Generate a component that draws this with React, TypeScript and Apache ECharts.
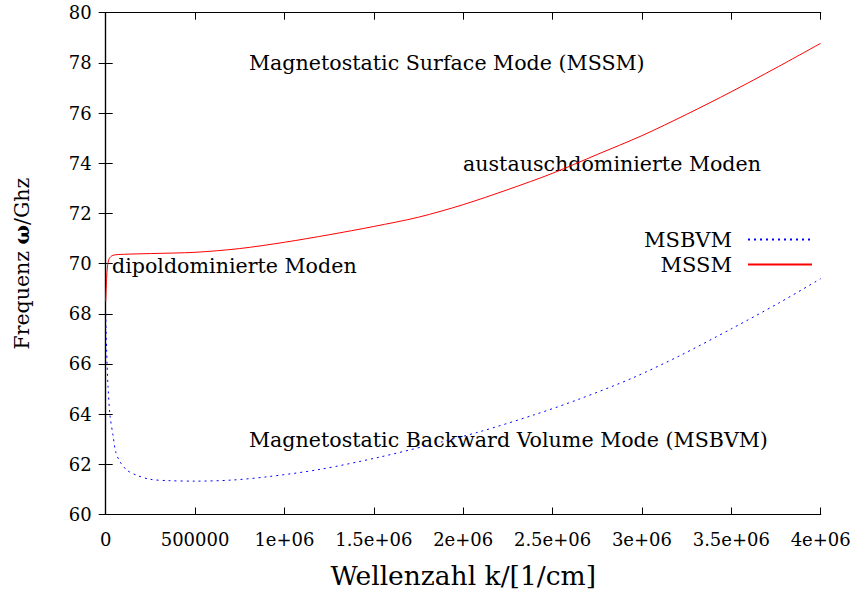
import React, { useEffect, useRef } from "react";
import * as echarts from "echarts";

const xTicks = [0, 500000, 1000000, 1500000, 2000000, 2500000, 3000000, 3500000, 4000000];
const yTicks = [60, 62, 64, 66, 68, 70, 72, 74, 76, 78, 80];

const mssmK = [0, 5000, 10000, 20000, 40000, 100000, 250000, 500000, 750000, 1000000, 1250000, 1500000, 1750000, 2000000, 2250000, 2500000, 2750000, 3000000, 3250000, 3500000, 3750000, 4000000];
const mssmW = [68.5, 69.4, 69.9, 70.2, 70.33, 70.37, 70.4, 70.45, 70.6, 70.85, 71.15, 71.48, 71.85, 72.35, 72.95, 73.6, 74.35, 75.1, 75.95, 76.85, 77.8, 78.78];

const msbvmK = [0, 5000, 13000, 24000, 41000, 56000, 80000, 120000, 175000, 250000, 350000, 500000, 700000, 900000, 1200000, 1534000, 1800000, 2093000, 2400000, 2653000, 2950000, 3212000, 3500000, 3771000, 4000000];
const msbvmW = [68.0, 66.6, 65.1, 63.95, 63.15, 62.5, 62.1, 61.76, 61.56, 61.4, 61.35, 61.33, 61.37, 61.5, 61.8, 62.29, 62.75, 63.3, 63.98, 64.61, 65.45, 66.33, 67.4, 68.45, 69.4];

const FONT = "DejaVu Serif";
const FS_TICK = 18;
const FS_TEXT = 20.6;
const FS_YNAME = 20.5;
const FS_XNAME = 26.5;
const FS_LEG = 21;

function fmtX(v: number): string {
  if (v === 0) return "0";
  if (v < 1000000) return String(v);
  return String(v / 1000000) + "e+06";
}

export default function App() {
  const ref = useRef<HTMLDivElement>(null);
  useEffect(() => {
    if (!ref.current) return;
    const chart = echarts.init(ref.current, undefined, { renderer: "svg" });
    const axisCommon = {
      type: "value" as const,
      axisLine: { show: true, lineStyle: { color: "#000", width: 1.2 } },
      axisTick: { show: true, inside: true, length: 7, lineStyle: { color: "#000", width: 1 } },
      splitLine: { show: false },
      minorTick: { show: false },
    };
    const text = (t: string, x: number, y: number) => ({
      type: "text",
      x,
      y,
      style: { text: t, fontSize: FS_TEXT, fontFamily: FONT, fill: "#000", verticalAlign: "middle", align: "left" },
    });
    chart.setOption({
      animation: false,
      backgroundColor: "#fff",
      grid: { left: 105.7, right: 39.3, top: 12.7, bottom: 78, containLabel: false },
      xAxis: [
        {
          ...axisCommon,
          min: xTicks[0],
          max: xTicks[xTicks.length - 1],
          interval: 500000,
          position: "bottom",
          axisLabel: { formatter: fmtX, fontFamily: FONT, fontSize: FS_TICK, color: "#000", margin: 16 },
          name: "Wellenzahl k/[1/cm]",
          nameLocation: "middle",
          nameGap: 47.5,
          nameTextStyle: { fontFamily: FONT, fontSize: FS_XNAME, color: "#000" },
        },
        {
          ...axisCommon,
          min: xTicks[0],
          max: xTicks[xTicks.length - 1],
          interval: 500000,
          position: "top",
          axisLabel: { show: false },
        },
      ],
      yAxis: [
        {
          ...axisCommon,
          min: yTicks[0],
          max: yTicks[yTicks.length - 1],
          interval: 2,
          position: "left",
          axisLabel: { fontFamily: FONT, fontSize: FS_TICK, color: "#000", margin: 14 },
          name: "{n|Frequenz }{w|ω}{n|/Ghz}",
          nameLocation: "middle",
          nameRotate: 90,
          nameGap: 73,
          nameTextStyle: {
            fontFamily: FONT,
            fontSize: FS_YNAME,
            color: "#000",
            rich: {
              n: { fontFamily: FONT, fontSize: FS_YNAME, color: "#000" },
              w: { fontFamily: FONT, fontSize: FS_YNAME, color: "#000", fontWeight: "bold" },
            },
          },
        },
        {
          ...axisCommon,
          min: yTicks[0],
          max: yTicks[yTicks.length - 1],
          interval: 2,
          position: "right",
          axisLabel: { show: false },
        },
      ],
      legend: {
        orient: "vertical",
        right: 47,
        top: 229,
        align: "right",
        itemWidth: 64,
        itemHeight: 14,
        itemGap: 4,
        padding: 0,
        itemStyle: { opacity: 0 },
        textStyle: { fontFamily: FONT, fontSize: FS_LEG, color: "#000", lineHeight: 20, padding: [0, 11, 0, 0] },
        data: ["MSBVM", "MSSM"],
      },
      series: [
        {
          name: "MSBVM",
          type: "line",
          symbol: "none",
          smooth: 0.3,
          lineStyle: { color: "#0000ff", width: 1, type: [2, 4] },
          itemStyle: { color: "#0000ff" },
          data: msbvmK.map((k, i) => [k, msbvmW[i]]),
        },
        {
          name: "MSSM",
          type: "line",
          symbol: "none",
          smooth: 0.3,
          lineStyle: { color: "#ff0000", width: 1 },
          itemStyle: { color: "#ff0000" },
          data: mssmK.map((k, i) => [k, mssmW[i]]),
        },
      ],
      graphic: [
        text("Magnetostatic Surface Mode (MSSM)", 249, 63),
        text("austauschdominierte Moden", 463, 164),
        text("dipoldominierte Moden", 112, 266),
        text("Magnetostatic Backward Volume Mode (MSBVM)", 249, 440),
      ],
    });
    return () => chart.dispose();
  }, []);
  return <div ref={ref} style={{ position: "absolute", left: 0, top: 0, width: 860, height: 594 }} />;
}
